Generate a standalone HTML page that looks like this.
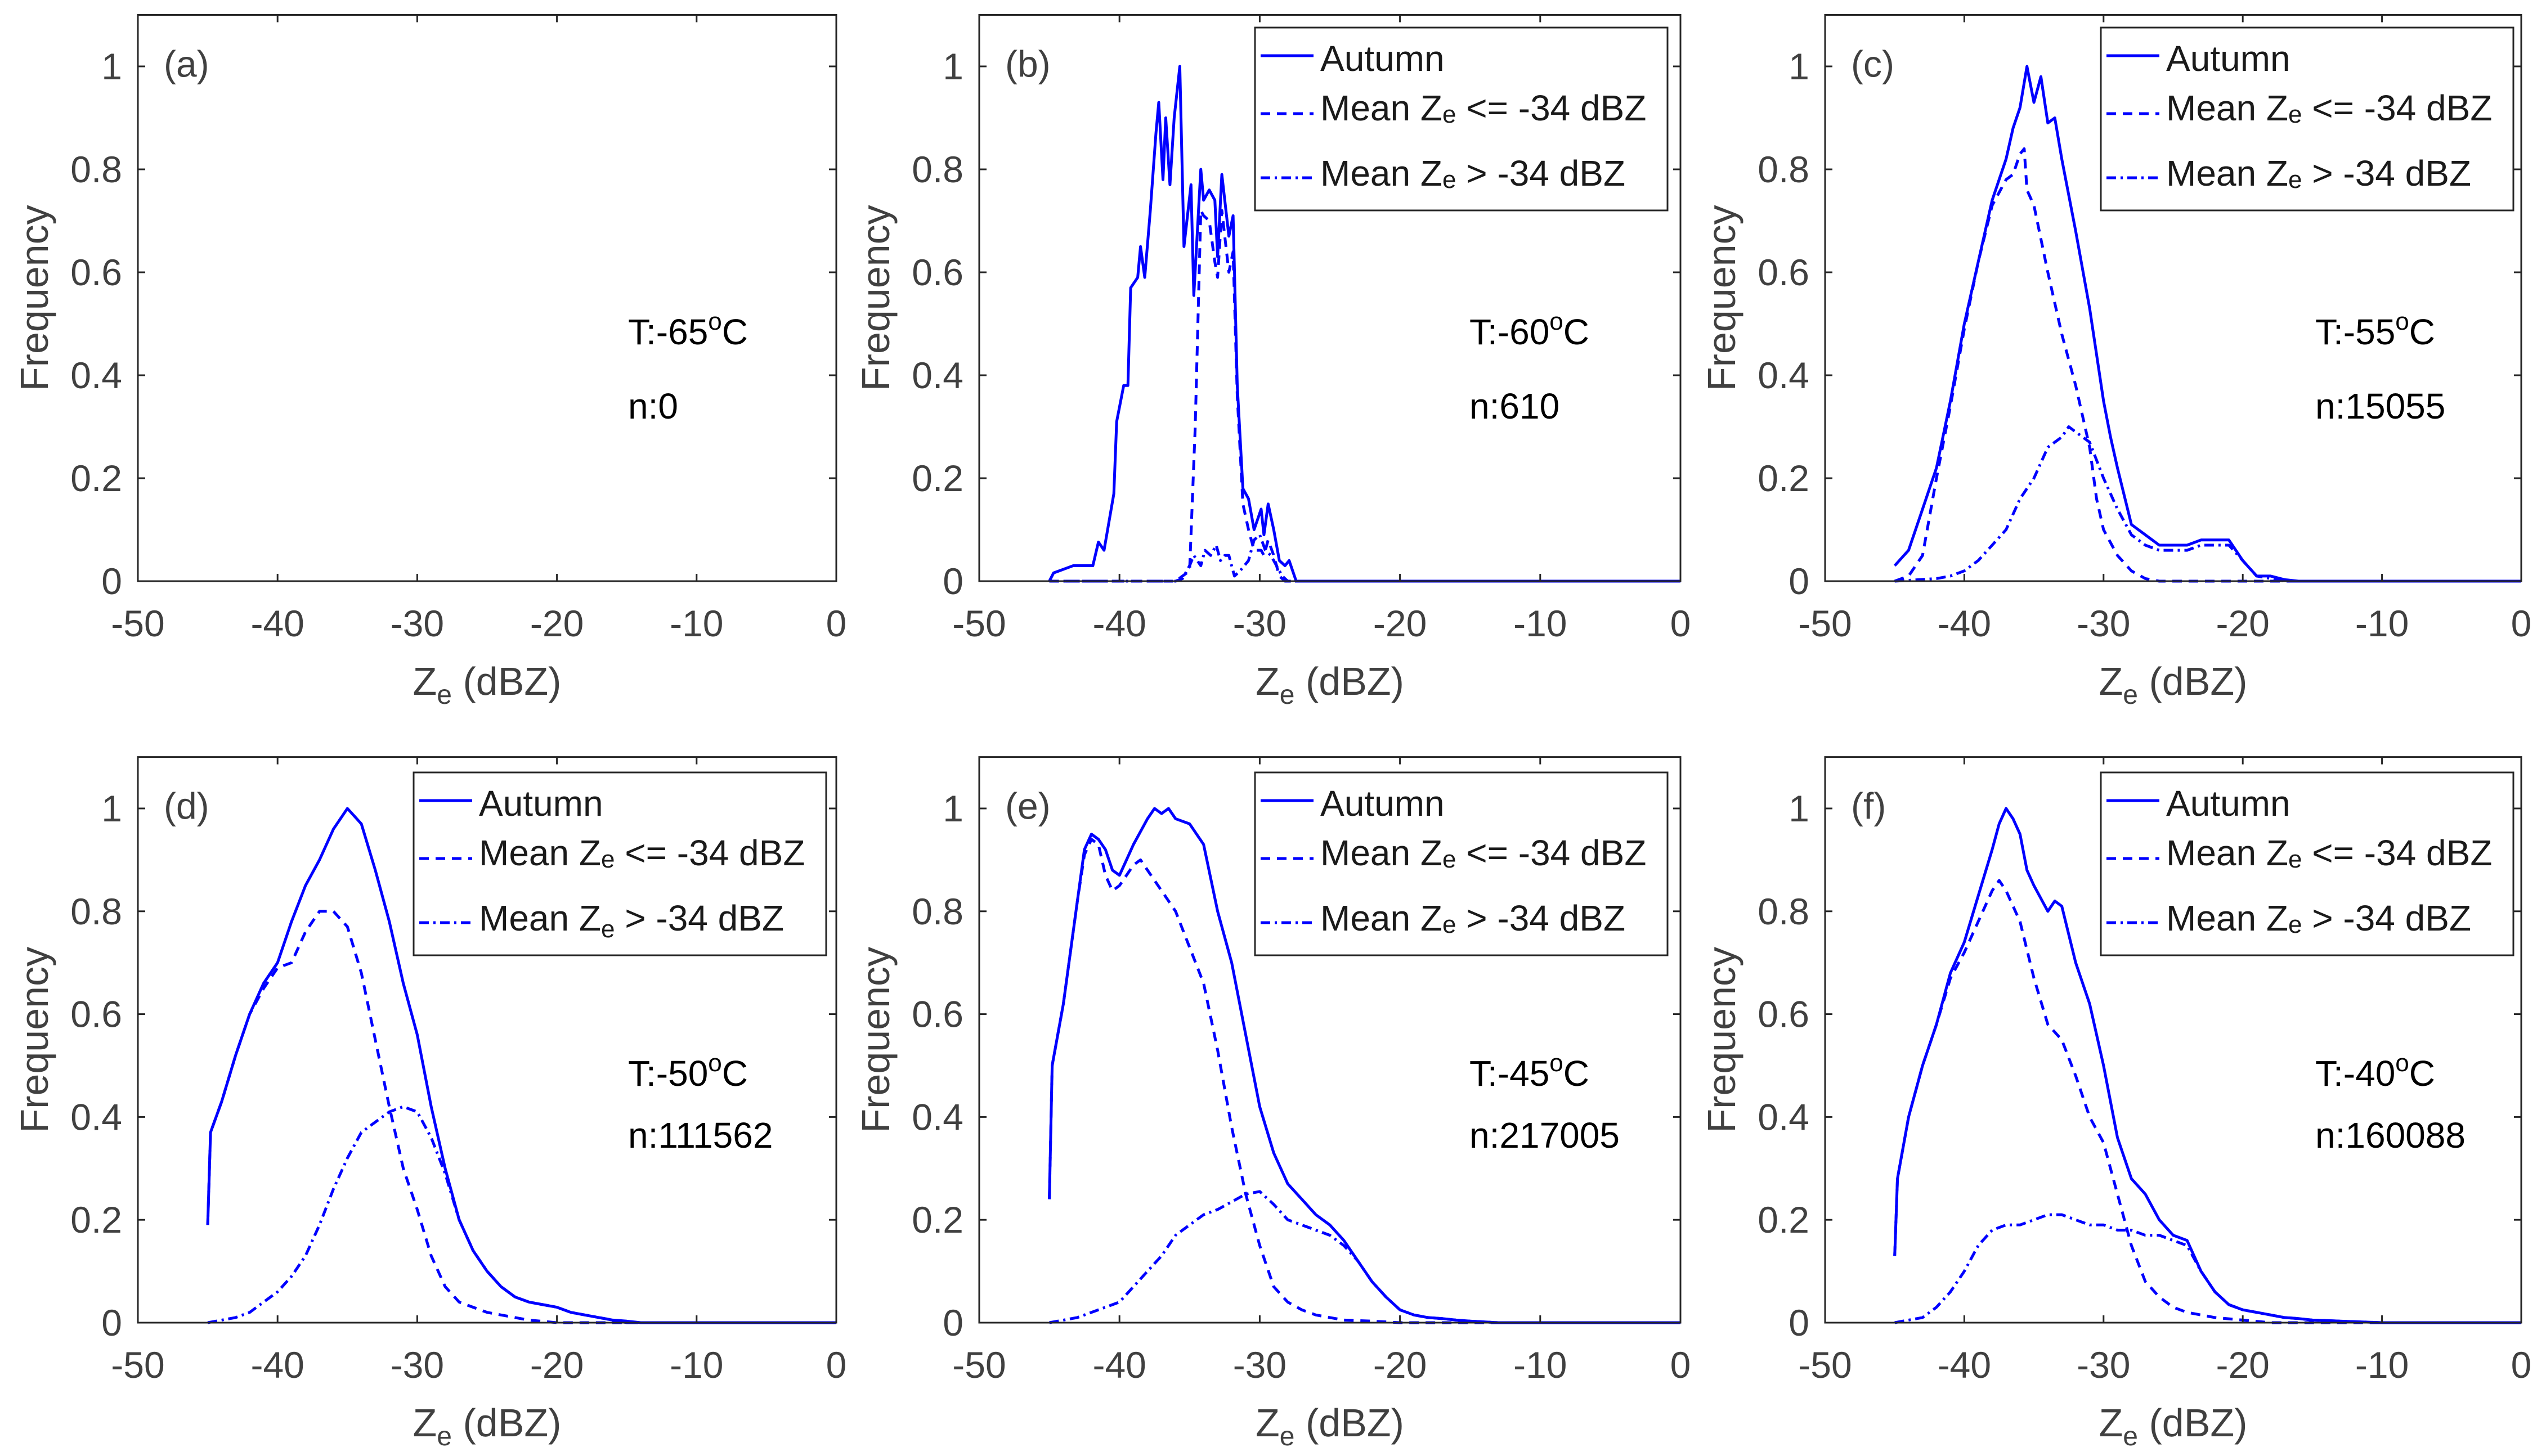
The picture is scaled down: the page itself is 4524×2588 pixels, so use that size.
<!DOCTYPE html>
<html><head><meta charset="utf-8"><title>Ze frequency panels</title>
<style>
html,body{margin:0;padding:0;background:#fff;}
svg{display:block;font-family:"Liberation Sans",Arial,sans-serif;}
</style></head>
<body>
<svg id="chart" width="4524" height="2588" viewBox="0 0 4524 2588" xmlns="http://www.w3.org/2000/svg"></svg>
<script>
// ---- data ----
const xTicks = [-50,-40,-30,-20,-10,0];
const yTicks = [0,0.2,0.4,0.6,0.8,1];
const xTickLabels = ["-50","-40","-30","-20","-10","0"];
const yTickLabels = ["0","0.2","0.4","0.6","0.8","1"];
const panelLetters = ["(a)","(b)","(c)","(d)","(e)","(f)"];
const panelTemps = ["-65","-60","-55","-50","-45","-40"];
const panelCounts = ["0","610","15055","111562","217005","160088"];

// panel b
const bAutumnX = [-45,-44.7,-43.3,-41.9,-41.5,-41.1,-40.4,-40.2,-39.7,-39.4,-39.2,-38.7,-38.5,-38.2,-37.8,-37.4,-37.2,-36.9,-36.7,-36.4,-36.1,-35.7,-35.4,-34.9,-34.7,-34.2,-34.0,-33.6,-33.2,-33.0,-32.7,-32.2,-31.9,-31.6,-31.2,-30.8,-30.4,-29.9,-29.7,-29.4,-29.0,-28.6,-28.2,-27.9,-27.4,0];
const bAutumnY = [0,0.016,0.03,0.03,0.076,0.06,0.17,0.31,0.38,0.38,0.57,0.59,0.65,0.59,0.72,0.87,0.93,0.78,0.9,0.77,0.9,1.0,0.65,0.77,0.555,0.8,0.74,0.76,0.74,0.63,0.79,0.67,0.71,0.38,0.18,0.16,0.1,0.14,0.09,0.15,0.1,0.04,0.03,0.04,0,0];
const bLowX = [-45,-36,-35.5,-35,-34.6,-34.2,-34,-33.6,-33.2,-33,-32.7,-32.2,-31.9,-31.6,-31.2,-30.8,-30.4,-29.9,-29.7,-29.4,-29,-28.6,-28.2,0];
const bLowY = [0,0,0.01,0.02,0.3,0.72,0.71,0.7,0.62,0.59,0.72,0.6,0.64,0.36,0.15,0.1,0.06,0.06,0.05,0.08,0.05,0.01,0,0];
const bHighX = [-45,-36,-35.5,-35,-34.7,-34.2,-33.9,-33.5,-33.1,-32.8,-32.5,-32.2,-31.8,-31.4,-30.8,-30.4,-30,-29.6,-29.2,-28.8,-28.4,-28,0];
const bHighY = [0,0,0.005,0.03,0.05,0.03,0.06,0.05,0.07,0.04,0.05,0.05,0.01,0.02,0.04,0.08,0.09,0.06,0.05,0.03,0.01,0,0];

// panel c
const cAutumnX = [-45,-44,-43,-42,-41,-40,-39,-38,-37,-36.5,-36,-35.5,-35,-34.5,-34,-33.5,-33,-32,-31,-30,-29.5,-29,-28,-27,-26,-25,-24,-23,-22,-21,-20,-19,-18,-17,-16,0];
const cAutumnY = [0.03,0.06,0.14,0.22,0.35,0.5,0.62,0.74,0.82,0.88,0.92,1.0,0.93,0.98,0.89,0.9,0.82,0.68,0.53,0.35,0.28,0.22,0.11,0.09,0.07,0.07,0.07,0.08,0.08,0.08,0.04,0.01,0.01,0.003,0,0];
const cLowX = [-45,-44,-43,-42,-41,-40,-39,-38,-37,-36.5,-36,-35.7,-35.5,-35,-34,-33,-32,-31,-30.5,-30,-29,-28,-27,-26,0];
const cLowY = [0,0.01,0.05,0.2,0.34,0.49,0.62,0.73,0.78,0.79,0.83,0.84,0.76,0.73,0.6,0.48,0.38,0.26,0.16,0.1,0.05,0.02,0.005,0,0];
const cHighX = [-45,-42,-41,-40,-39,-38,-37,-36,-35,-34,-33,-32.5,-32,-31,-30,-29,-28,-27,-26,-25,-24,-23,-22,-21,-20,-19,-18,-17,0];
const cHighY = [0,0.005,0.01,0.02,0.04,0.07,0.1,0.16,0.2,0.26,0.28,0.3,0.29,0.27,0.2,0.14,0.09,0.07,0.06,0.06,0.06,0.07,0.07,0.07,0.04,0.01,0.005,0,0];

// panel d
const dAutumnX = [-45,-44.8,-44,-43,-42,-41,-40,-39,-38,-37,-36,-35,-34,-33,-32,-31,-30,-29,-28,-27,-26,-25,-24,-23,-22,-21,-20,-19,-18,-17,-16,-15,-14,0];
const dAutumnY = [0.19,0.37,0.43,0.52,0.6,0.66,0.7,0.78,0.85,0.9,0.96,1.0,0.97,0.88,0.78,0.66,0.56,0.42,0.3,0.2,0.14,0.1,0.07,0.05,0.04,0.035,0.03,0.02,0.015,0.01,0.005,0.003,0,0];
const dLowX = [-45,-44.8,-44,-43,-42,-41,-40,-39,-38,-37,-36,-35,-34,-33,-32,-31,-30,-29,-28,-27,-26,-25,-24,-23,-22,-20,0];
const dLowY = [0.19,0.37,0.43,0.52,0.6,0.65,0.69,0.7,0.76,0.8,0.8,0.77,0.68,0.55,0.42,0.3,0.22,0.13,0.07,0.04,0.03,0.02,0.015,0.01,0.005,0,0];
const dHighX = [-45,-44,-43,-42,-41,-40,-39,-38,-37,-36,-35,-34,-33,-32,-31,-30,-29,-28,-27,-26,-25,-24,-23,-22,-21,-20,-19,-18,-17,-16,-15,0];
const dHighY = [0,0.005,0.01,0.02,0.04,0.06,0.09,0.13,0.19,0.26,0.32,0.37,0.39,0.41,0.42,0.41,0.36,0.29,0.2,0.14,0.1,0.07,0.05,0.04,0.035,0.03,0.02,0.015,0.01,0.005,0,0];

// panel e
const eAutumnX = [-45,-44.8,-44,-43,-42.5,-42,-41.5,-41,-40.5,-40,-39.5,-39,-38,-37.5,-37,-36.5,-36,-35,-34,-33,-32,-31,-30,-29,-28,-27,-26,-25,-24,-23,-22,-21,-20,-19,-18,-17,-16,-15,-13,0];
const eAutumnY = [0.24,0.5,0.62,0.82,0.92,0.95,0.94,0.92,0.88,0.87,0.9,0.93,0.98,1.0,0.99,1.0,0.98,0.97,0.93,0.8,0.7,0.56,0.42,0.33,0.27,0.24,0.21,0.19,0.16,0.12,0.08,0.05,0.025,0.015,0.01,0.008,0.005,0.003,0,0];
const eLowX = [-45,-44.8,-44,-43,-42.5,-42,-41.5,-41,-40.5,-40,-39.5,-39,-38.5,-38,-37,-36,-35,-34,-33,-32,-31,-30,-29,-28,-27,-26,-25,-24,-22,-20,0];
const eLowY = [0.24,0.5,0.62,0.82,0.91,0.94,0.93,0.87,0.84,0.85,0.87,0.89,0.9,0.88,0.84,0.8,0.73,0.66,0.53,0.38,0.25,0.15,0.07,0.04,0.025,0.015,0.01,0.005,0.003,0,0];
const eHighX = [-45,-44,-43,-42,-41,-40,-39,-38,-37,-36,-35,-34,-33,-32,-31,-30,-29,-28,-27,-26,-25,-24,-23,-22,-21,-20,-19,-18,-17,-16,-15,-13,0];
const eHighY = [0,0.005,0.01,0.02,0.03,0.04,0.07,0.1,0.13,0.17,0.19,0.21,0.22,0.235,0.25,0.255,0.23,0.2,0.19,0.18,0.17,0.15,0.12,0.08,0.05,0.025,0.015,0.01,0.008,0.005,0.003,0,0];

// panel f
const fAutumnX = [-45,-44.8,-44,-43,-42,-41,-40,-39,-38,-37.5,-37,-36.5,-36,-35.5,-35,-34,-33.5,-33,-32,-31,-30,-29,-28,-27,-26,-25,-24,-23,-22,-21,-20,-19,-18,-17,-16,-15,-14,-12,-10,0];
const fAutumnY = [0.13,0.28,0.4,0.5,0.58,0.68,0.74,0.83,0.92,0.97,1.0,0.98,0.95,0.88,0.85,0.8,0.82,0.81,0.7,0.62,0.5,0.36,0.28,0.25,0.2,0.17,0.16,0.1,0.06,0.035,0.025,0.02,0.015,0.01,0.008,0.005,0.004,0.002,0,0];
const fLowX = [-45,-44.8,-44,-43,-42,-41,-40,-39,-38,-37.5,-37,-36,-35,-34,-33,-32,-31,-30,-29,-28,-27,-26,-25,-24,-23,-22,-20,-18,0];
const fLowY = [0.13,0.28,0.4,0.5,0.58,0.67,0.72,0.78,0.84,0.86,0.84,0.78,0.67,0.58,0.55,0.48,0.4,0.35,0.25,0.15,0.08,0.05,0.03,0.02,0.015,0.01,0.005,0,0];
const fHighX = [-45,-44,-43,-42,-41,-40,-39,-38,-37,-36,-35,-34,-33,-32,-31,-30,-29,-28,-27,-26,-25,-24,-23,-22,-21,-20,-19,-18,-17,-16,-15,-12,-10,0];
const fHighY = [0,0.005,0.01,0.03,0.06,0.1,0.15,0.18,0.19,0.19,0.2,0.21,0.21,0.2,0.19,0.19,0.18,0.18,0.17,0.17,0.16,0.15,0.1,0.06,0.035,0.025,0.02,0.015,0.01,0.008,0.005,0.002,0,0];

const seriesByPanel = [
  null,
  [[bAutumnX,bAutumnY],[bLowX,bLowY],[bHighX,bHighY]],
  [[cAutumnX,cAutumnY],[cLowX,cLowY],[cHighX,cHighY]],
  [[dAutumnX,dAutumnY],[dLowX,dLowY],[dHighX,dHighY]],
  [[eAutumnX,eAutumnY],[eLowX,eLowY],[eHighX,eHighY]],
  [[fAutumnX,fAutumnY],[fLowX,fLowY],[fHighX,fHighY]]
];

// ---- layout ----
const NS = "http://www.w3.org/2000/svg";
const svg = document.getElementById("chart");
const colLeft = [245,1740,3243];
const colRight = [1486,2986,4480];
const rowZero = [1033,2351];
const rowOne = [118,1437];
const seriesNames = ["autumn","mean-ze-low","mean-ze-high"];
const dashes = [null,"17,12","17,8,4,8"];

function mk(tag, attrs, parent){
  const e = document.createElementNS(NS, tag);
  for (const k in attrs) e.setAttribute(k, attrs[k]);
  (parent||svg).appendChild(e);
  return e;
}
function ze(parent, x, y, anchor, fs, fill, pre, post, sub){
  const t = mk("text",{x:x,y:y,"font-size":fs,fill:fill,"text-anchor":anchor},parent);
  t.appendChild(document.createTextNode(pre));
  const s = mk("tspan",{"font-size":Math.round(fs*0.68),dy:sub},t);
  s.textContent = "e";
  const r = mk("tspan",{dy:-sub},t);
  r.textContent = post;
  return t;
}

for (let p=0;p<6;p++){
  const col = p%3, row = Math.floor(p/3);
  const L = colLeft[col], R = colRight[col], Y0 = rowZero[row], Y1 = rowOne[row];
  const sx = v => L + (v+50)/50*(R-L);
  const sy = v => Y0 - v*(Y0-Y1);
  const T = sy(1.1);
  const g = mk("g",{});
  
  

  const ser = seriesByPanel[p];
  if (ser){
    for (let s=0;s<3;s++){
      const X = ser[s][0], Yv = ser[s][1];
      const n = Math.min(X.length, Yv.length);
      let d = "";
      for (let i=0;i<n;i++) d += (i?"L":"M")+sx(X[i]).toFixed(1)+","+sy(Yv[i]).toFixed(1);
      const a = {d:d,fill:"none",stroke:"#0000ff","stroke-width":5,"stroke-linejoin":"round"};
      if (dashes[s]) a["stroke-dasharray"] = dashes[s];
      const path = mk("path",a,g);
      
      
    }
  }

  const box = mk("rect",{x:L,y:T,width:R-L,height:Y0-T,fill:"none",stroke:"#262626","stroke-width":3},g);
  
  

  for (let i=0;i<xTicks.length;i++){
    const x = sx(xTicks[i]);
    mk("line",{x1:x,y1:Y0,x2:x,y2:Y0-13,stroke:"#262626","stroke-width":3},g);
    mk("line",{x1:x,y1:T,x2:x,y2:T+13,stroke:"#262626","stroke-width":3},g);
    const t = mk("text",{x:x,y:Y0+98,"font-size":66,fill:"#404040","text-anchor":"middle"},g);
    t.textContent = xTickLabels[i];
    
    
  }
  for (let i=0;i<yTicks.length;i++){
    const y = sy(yTicks[i]);
    mk("line",{x1:L,y1:y,x2:L+13,y2:y,stroke:"#262626","stroke-width":3},g);
    mk("line",{x1:R,y1:y,x2:R-13,y2:y,stroke:"#262626","stroke-width":3},g);
    const t = mk("text",{x:L-28,y:y+23,"font-size":66,fill:"#404040","text-anchor":"end"},g);
    t.textContent = yTickLabels[i];
    
    
  }

  const xl = ze(g,(L+R)/2,Y0+202,"middle",70,"#404040","Z"," (dBZ)",16);
  
  
  const yx = L-160, yy = (Y0+T)/2;
  const yl = mk("text",{x:yx,y:yy,"font-size":70,fill:"#404040","text-anchor":"middle",transform:"rotate(-90 "+yx+" "+yy+")"},g);
  yl.textContent = "Frequency";
  
  

  const pl = mk("text",{x:L+46,y:T+110,"font-size":66,fill:"#404040"},g);
  pl.textContent = panelLetters[p];
  
  

  const ty = Y0-421;
  const ny = row===0 ? Y0-289 : Y0-311;
  const tt = mk("text",{x:L+871,y:ty,"font-size":64,fill:"#000"},g);
  tt.appendChild(document.createTextNode("T:"+panelTemps[p]));
  const deg = mk("tspan",{"font-size":44,dy:-26},tt); deg.textContent = "o";
  const cc = mk("tspan",{dy:26},tt); cc.textContent = "C";
  
  
  const nt = mk("text",{x:L+871,y:ny,"font-size":64,fill:"#000"},g);
  nt.textContent = "n:"+panelCounts[p];
  
  

  if (ser){
    const lt = row===0 ? 49 : 1373;
    const lx = L+490;
    const lg = mk("g",{},g);
    
    
    mk("rect",{x:lx,y:lt,width:733,height:325,fill:"#fff",stroke:"#262626","stroke-width":3},lg);
    const lineY = [50,153,267], baseY = [77,165,281];
    const labels = [["Autumn"],["Mean Z"," <= -34 dBZ"],["Mean Z"," > -34 dBZ"]];
    for (let s=0;s<3;s++){
      const a = {x1:L+500,y1:lt+lineY[s],x2:L+594,y2:lt+lineY[s],stroke:"#0000ff","stroke-width":5};
      if (dashes[s]) a["stroke-dasharray"] = dashes[s];
      const ln = mk("line",a,lg);
      
      
      let tx;
      if (s===0){
        tx = mk("text",{x:L+606,y:lt+baseY[s],"font-size":64,fill:"#1a1a1a"},lg);
        tx.textContent = "Autumn";
      } else {
        const subOff = (p===3 && s===2) ? 12 : 4;
        tx = ze(lg,L+606,lt+baseY[s],"start",64,"#1a1a1a",labels[s][0],labels[s][1],subOff);
      }
      
      
    }
  }
}
</script>
</body></html>
